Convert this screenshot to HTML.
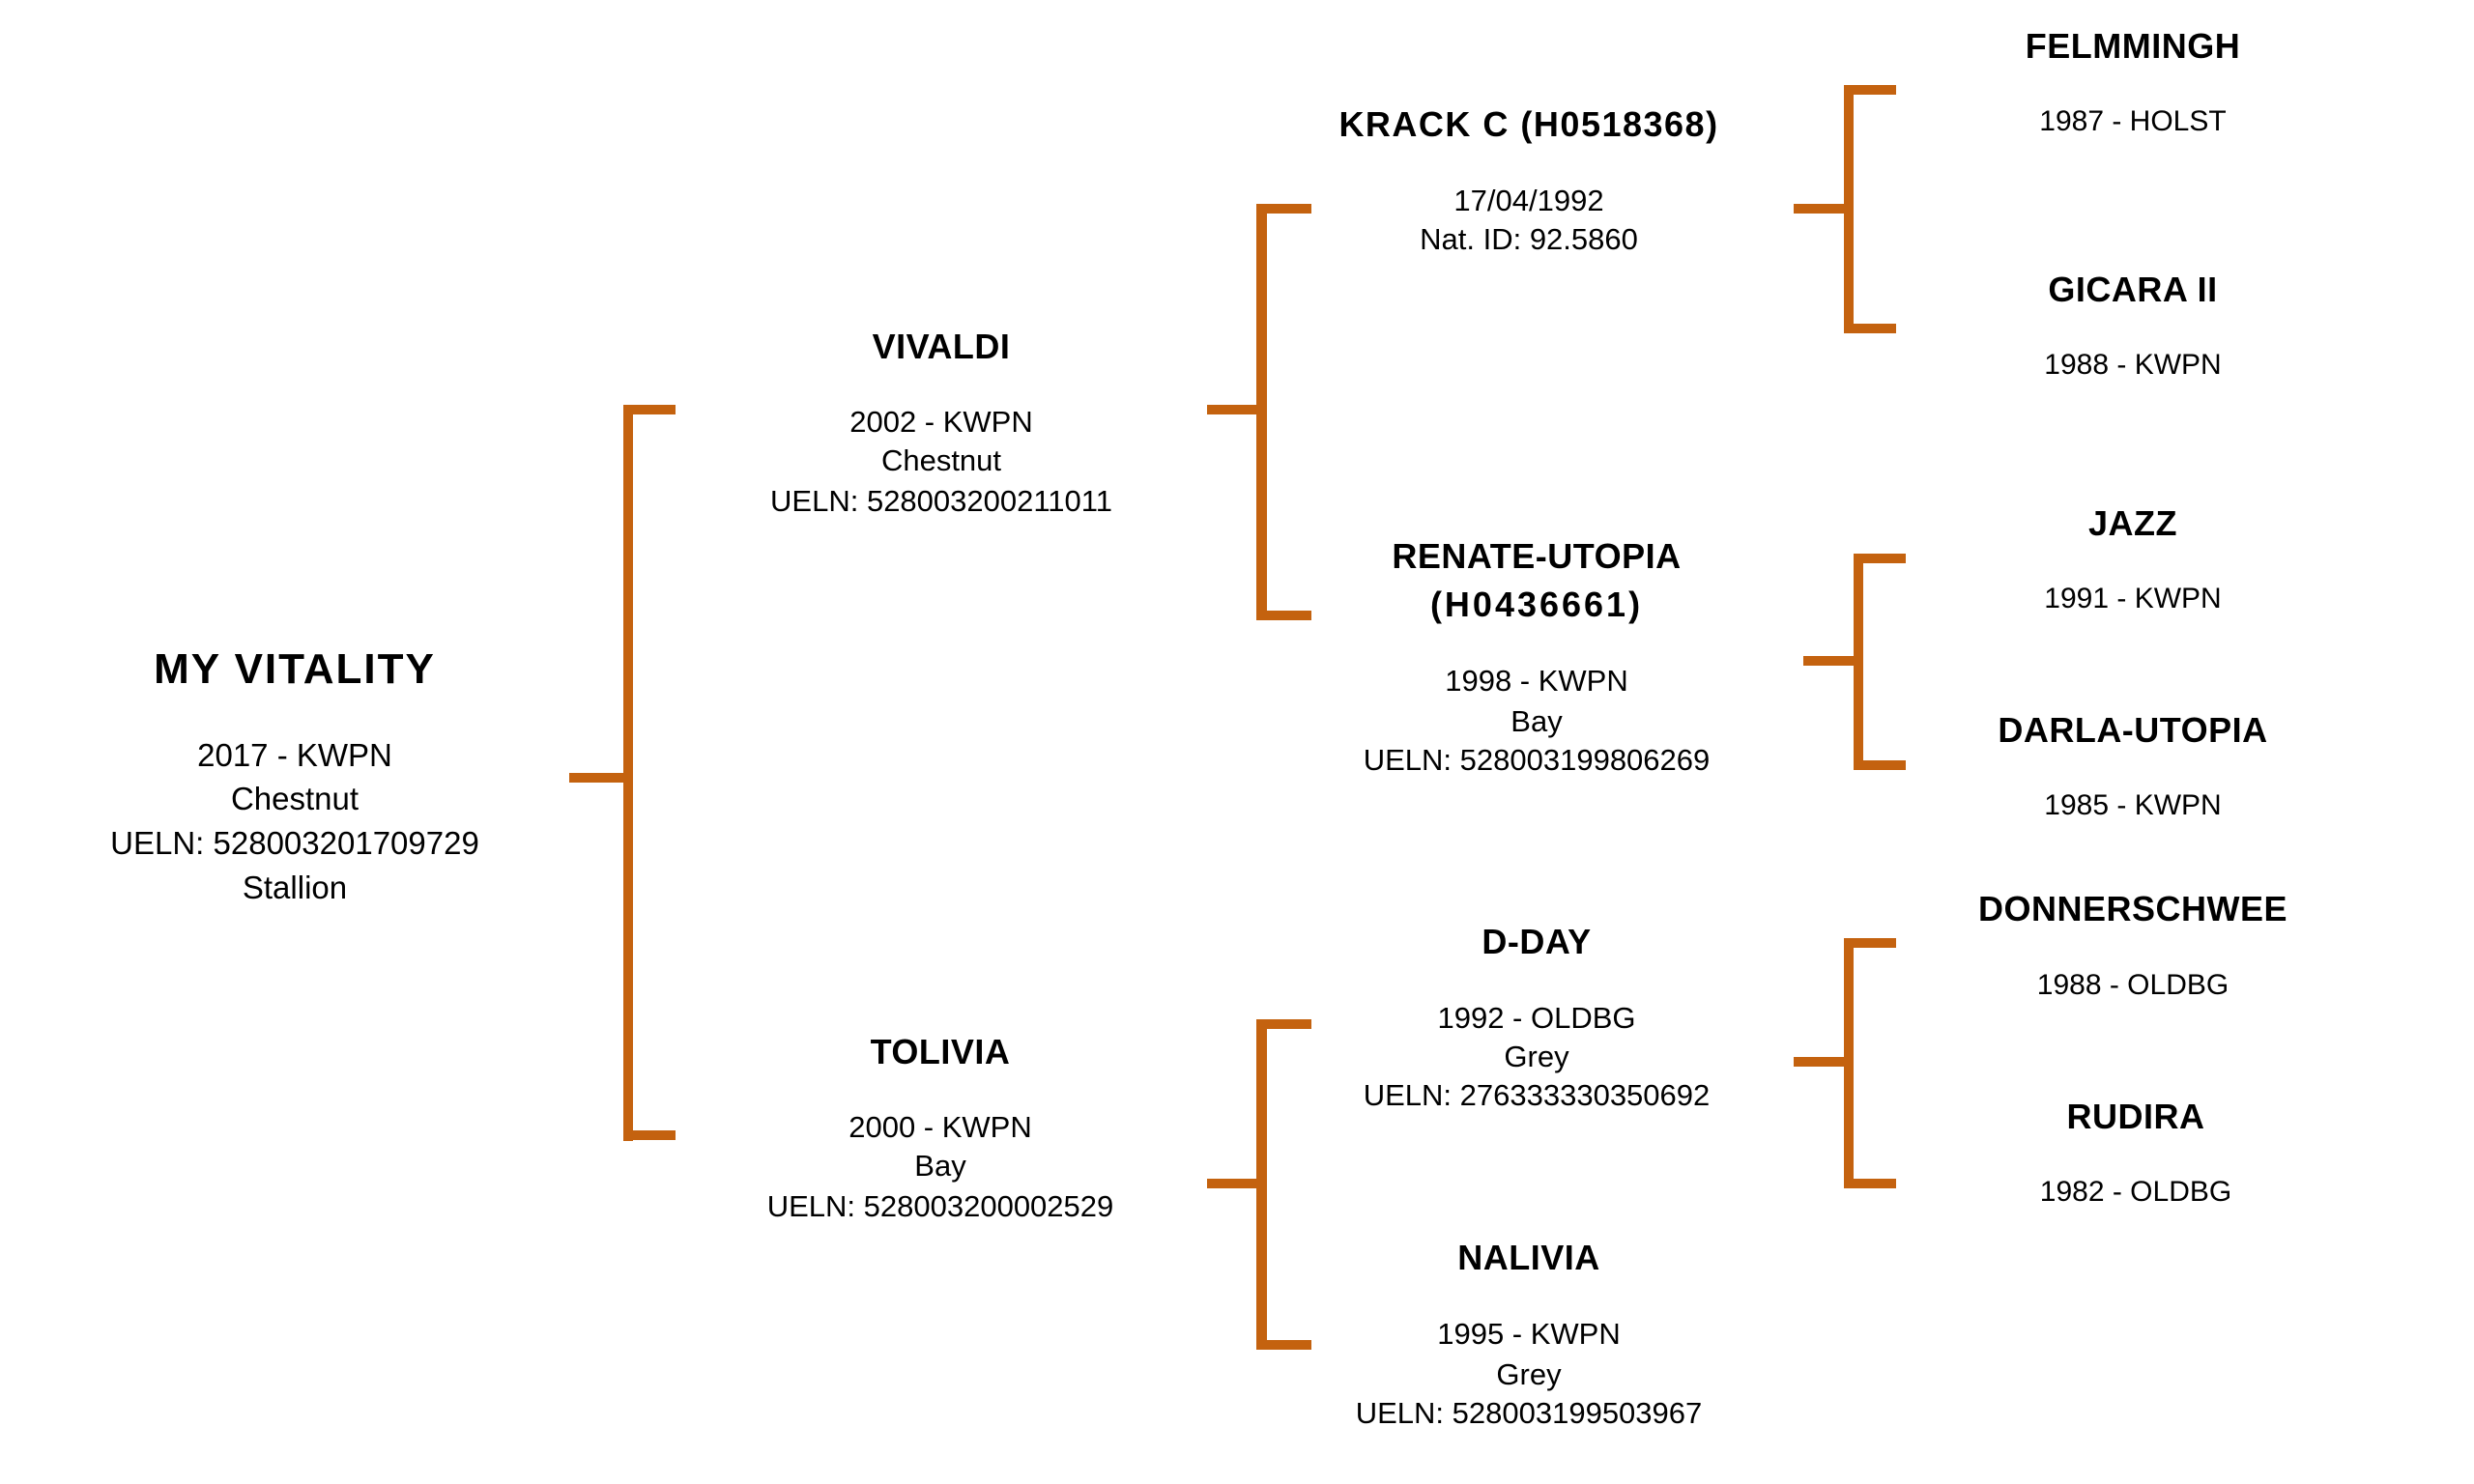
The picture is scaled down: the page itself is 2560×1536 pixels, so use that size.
<!DOCTYPE html>
<html>
<head>
<meta charset="utf-8">
<style>
html,body{margin:0;padding:0;background:#ffffff;}
body{width:2560px;height:1536px;position:relative;overflow:hidden;font-family:"Liberation Sans",Arial,sans-serif;color:#000;}
.t{position:absolute;width:1000px;text-align:center;white-space:nowrap;margin-top:-2px;}
.h0{font-size:44px;line-height:44px;font-weight:bold;letter-spacing:2px;}
.d0{font-size:33px;line-height:33px;}
.h{font-size:36px;line-height:36px;font-weight:bold;letter-spacing:0.5px;}
.d{font-size:31px;line-height:31px;}
.d3{font-size:30px;line-height:30px;}
.b{position:absolute;background:#C4620F;}
</style>
</head>
<body>

<!-- Brackets -->
<!-- B1 -->
<div class="b" style="left:589px;top:800px;width:61px;height:10px;"></div>
<div class="b" style="left:645px;top:419px;width:10px;height:762px;"></div>
<div class="b" style="left:645px;top:419px;width:54px;height:10px;"></div>
<div class="b" style="left:645px;top:1170px;width:54px;height:10px;"></div>
<!-- B2 -->
<div class="b" style="left:1249px;top:419px;width:56px;height:10px;"></div>
<div class="b" style="left:1300px;top:211px;width:11px;height:431px;"></div>
<div class="b" style="left:1300px;top:211px;width:57px;height:10px;"></div>
<div class="b" style="left:1300px;top:632px;width:57px;height:10px;"></div>
<!-- B3 -->
<div class="b" style="left:1249px;top:1220px;width:56px;height:10px;"></div>
<div class="b" style="left:1300px;top:1055px;width:11px;height:342px;"></div>
<div class="b" style="left:1300px;top:1055px;width:57px;height:10px;"></div>
<div class="b" style="left:1300px;top:1387px;width:57px;height:10px;"></div>
<!-- B4 -->
<div class="b" style="left:1856px;top:211px;width:55px;height:10px;"></div>
<div class="b" style="left:1908px;top:88px;width:10px;height:257px;"></div>
<div class="b" style="left:1908px;top:88px;width:54px;height:10px;"></div>
<div class="b" style="left:1908px;top:335px;width:54px;height:10px;"></div>
<!-- B5 -->
<div class="b" style="left:1866px;top:679px;width:55px;height:10px;"></div>
<div class="b" style="left:1918px;top:573px;width:10px;height:224px;"></div>
<div class="b" style="left:1918px;top:573px;width:54px;height:10px;"></div>
<div class="b" style="left:1918px;top:787px;width:54px;height:10px;"></div>
<!-- B6 -->
<div class="b" style="left:1856px;top:1094px;width:55px;height:10px;"></div>
<div class="b" style="left:1908px;top:971px;width:10px;height:259px;"></div>
<div class="b" style="left:1908px;top:971px;width:54px;height:10px;"></div>
<div class="b" style="left:1908px;top:1220px;width:54px;height:10px;"></div>

<!-- Gen 0 -->
<div class="t h0" style="left:-195px;top:673px;">MY VITALITY</div>
<div class="t d0" style="left:-195px;top:767px;">2017 - KWPN</div>
<div class="t d0" style="left:-195px;top:812px;">Chestnut</div>
<div class="t d0" style="left:-195px;top:858px;">UELN: 528003201709729</div>
<div class="t d0" style="left:-195px;top:904px;">Stallion</div>

<!-- Gen 1 -->
<div class="t h" style="left:474px;top:342.6px;">VIVALDI</div>
<div class="t d" style="left:474px;top:423.1px;">2002 - KWPN</div>
<div class="t d" style="left:474px;top:463.1px;">Chestnut</div>
<div class="t d" style="left:474px;top:505.1px;">UELN: 528003200211011</div>

<div class="t h" style="left:473px;top:1072.6px;">TOLIVIA</div>
<div class="t d" style="left:473px;top:1153.1px;">2000 - KWPN</div>
<div class="t d" style="left:473px;top:1193.1px;">Bay</div>
<div class="t d" style="left:473px;top:1235.1px;">UELN: 528003200002529</div>

<!-- Gen 2 -->
<div class="t h" style="left:1082px;top:112.6px;letter-spacing:1.5px;">KRACK C (H0518368)</div>
<div class="t d" style="left:1082px;top:194.1px;">17/04/1992</div>
<div class="t d" style="left:1082px;top:234.1px;">Nat. ID: 92.5860</div>

<div class="t h" style="left:1090px;top:559.6px;">RENATE-UTOPIA</div>
<div class="t h" style="left:1090px;top:609.6px;letter-spacing:3px;">(H0436661)</div>
<div class="t d" style="left:1090px;top:691.1px;">1998 - KWPN</div>
<div class="t d" style="left:1090px;top:733.1px;">Bay</div>
<div class="t d" style="left:1090px;top:773.1px;">UELN: 528003199806269</div>

<div class="t h" style="left:1090px;top:958.6px;">D-DAY</div>
<div class="t d" style="left:1090px;top:1040.1px;">1992 - OLDBG</div>
<div class="t d" style="left:1090px;top:1080.1px;">Grey</div>
<div class="t d" style="left:1090px;top:1120.1px;">UELN: 276333330350692</div>

<div class="t h" style="left:1082px;top:1285.6px;">NALIVIA</div>
<div class="t d" style="left:1082px;top:1367.1px;">1995 - KWPN</div>
<div class="t d" style="left:1082px;top:1409.1px;">Grey</div>
<div class="t d" style="left:1082px;top:1449.1px;">UELN: 528003199503967</div>

<!-- Gen 3 -->
<div class="t h" style="left:1707px;top:31.6px;">FELMMINGH</div>
<div class="t d3" style="left:1707px;top:112.5px;">1987 - HOLST</div>

<div class="t h" style="left:1707px;top:283.6px;">GICARA II</div>
<div class="t d3" style="left:1707px;top:364.5px;">1988 - KWPN</div>

<div class="t h" style="left:1707px;top:525.6px;">JAZZ</div>
<div class="t d3" style="left:1707px;top:606.5px;">1991 - KWPN</div>

<div class="t h" style="left:1707px;top:739.6px;">DARLA-UTOPIA</div>
<div class="t d3" style="left:1707px;top:820.5px;">1985 - KWPN</div>

<div class="t h" style="left:1707px;top:924.6px;">DONNERSCHWEE</div>
<div class="t d3" style="left:1707px;top:1006.5px;">1988 - OLDBG</div>

<div class="t h" style="left:1710px;top:1139.6px;">RUDIRA</div>
<div class="t d3" style="left:1710px;top:1220.5px;">1982 - OLDBG</div>

</body>
</html>
